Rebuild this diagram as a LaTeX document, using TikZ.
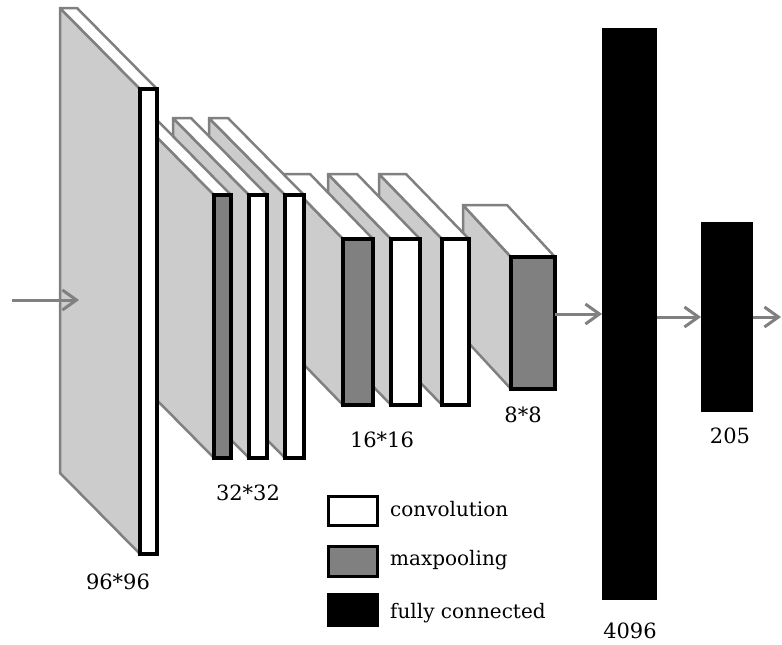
\documentclass[tikz,border=0pt]{standalone}
\usepackage{fontspec}
\setmainfont{DejaVu Serif}
\usetikzlibrary{arrows.meta}
\definecolor{edgegray}{RGB}{128,128,128}
\definecolor{sidegray}{RGB}{204,204,204}
\definecolor{poolgray}{RGB}{128,128,128}
\tikzset{
  sideface/.style={fill=sidegray, draw=edgegray, line width=2.5pt, line join=round},
  topface/.style={fill=white, draw=edgegray, line width=2.5pt, line join=round},
  convbox/.style={draw=black, fill=white, line width=4pt, inner sep=0pt, outer sep=0pt},
  poolbox/.style={draw=black, fill=poolgray, line width=4pt, inner sep=0pt, outer sep=0pt},
  fcbox/.style={fill=black, inner sep=0pt, outer sep=0pt},
  flow/.style={draw=edgegray, line width=3pt, -{Straight Barb[length=14pt,width=20pt]}},
  dimlabel/.style={font=\fontsize{21}{21}\selectfont, anchor=base, inner sep=0pt},
  legendtext/.style={font=\fontsize{20}{20}\selectfont, anchor=base west, inner sep=0pt},
}
% x0 y0 x1 y1 dx dy style name
\newcommand\slabdraw[8]{%
  \path[sideface] ({#1+(#5)},{#2+(#6)}) -- (#1,#2) -- (#1,#4) -- ({#1+(#5)},{#4+(#6)}) -- cycle;
  \path[topface] ({#1+(#5)},{#2+(#6)}) -- ({#3+(#5)},{#2+(#6)}) -- (#3,#2) -- (#1,#2) -- cycle;
  \node[#7, minimum width={(#3-#1)*1pt}, minimum height={(#4-#2)*1pt}] (#8) at ({(#1+#3)/2},{(#2+#4)/2}) {};
}
\begin{document}
\begin{tikzpicture}[x=1pt,y=-1pt]
\useasboundingbox (0,0) rectangle (782,645);
% slabs, drawn from back (right) to front (left)
\slabdraw{511}{257}{555}{389}{-48}{-52}{poolbox}{p4}
\slabdraw{442}{239}{469}{405}{-63}{-65}{convbox}{c33}
\slabdraw{391}{239}{420}{405}{-63}{-65}{convbox}{c32}
\slabdraw{343}{239}{373}{405}{-63}{-65}{poolbox}{p3}
\slabdraw{285}{195}{304}{458}{-76}{-77}{convbox}{c23}
\slabdraw{249}{195}{267}{458}{-76}{-77}{convbox}{c22}
\slabdraw{214}{195}{231}{458}{-76}{-77}{poolbox}{p2}
\slabdraw{140}{89}{157}{554}{-80}{-81}{convbox}{c1}
% fully connected layers
\node[fcbox, minimum width=55pt, minimum height=572pt] (fc1) at (629.5,314) {};
\node[fcbox, minimum width=52pt, minimum height=190pt] (fc2) at (727,317) {};
% arrows
\coordinate (instart) at (12,300);
\coordinate (inend) at (79,300);
\coordinate (outend) at (781,317);
\draw[flow] (instart) -- (inend);
\draw[flow] (p4.east |- fc1.west) -- (fc1.west);
\draw[flow] (fc1.east |- fc2.west) -- (fc2.west);
\draw[flow] (fc2.east) -- (outend);
% dimension labels
\node[dimlabel] (l96) at (118,589) {96*96};
\node[dimlabel] (l32) at (248,500) {32*32};
\node[dimlabel] (l16) at (382,447) {16*16};
\node[dimlabel] (l8) at (523,422) {8*8};
\node[dimlabel] (l4096) at (630,638) {4096};
\node[dimlabel] (l205) at (730,443) {205};
% legend
\node[convbox, line width=3pt, minimum width=49pt, minimum height=29pt] (lgconv) at (353,511) {};
\node[poolbox, line width=3pt, minimum width=49pt, minimum height=30pt] (lgpool) at (353,561.5) {};
\node[fcbox, minimum width=52pt, minimum height=34pt] (lgfc) at (353,610) {};
\node[legendtext] (lgconvt) at (390,516) {convolution};
\node[legendtext] (lgpoolt) at (390,565) {maxpooling};
\node[legendtext] (lgfct) at (390,618) {fully connected};
\end{tikzpicture}
\end{document}
